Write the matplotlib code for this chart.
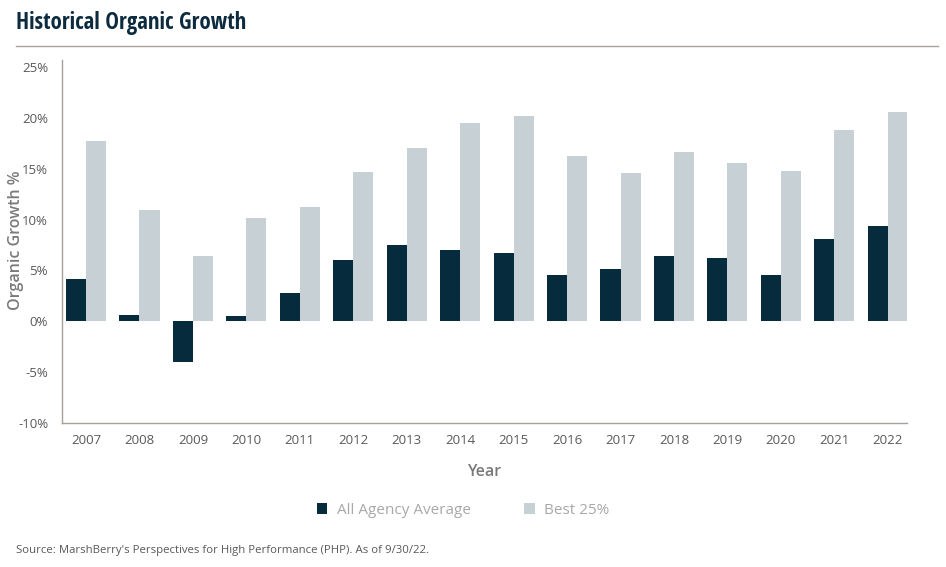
import matplotlib
matplotlib.use("Agg")
import matplotlib.pyplot as plt
import numpy as np
from matplotlib.lines import Line2D

years = ["2007", "2008", "2009", "2010", "2011", "2012", "2013", "2014",
         "2015", "2016", "2017", "2018", "2019", "2020", "2021", "2022"]
all_agency = [4.2, 0.6, -4.0, 0.5, 2.8, 6.0, 7.5, 7.0, 6.7, 4.6, 5.1, 6.4, 6.2, 4.6, 8.1, 9.4]
best_25 = [17.7, 10.9, 6.4, 10.2, 11.2, 14.7, 17.0, 19.5, 20.2, 16.3, 14.6, 16.6, 15.6, 14.8, 18.8, 20.6]
yticks = [-10, -5, 0, 5, 10, 15, 20, 25]

DARK = "#052b3d"
LIGHT = "#c6d0d5"
GRAY = "#595959"
AXIS = "#a6a19c"

plt.rcParams['font.family'] = ['Open Sans', 'DejaVu Sans']

fig = plt.figure(figsize=(9.46, 5.67), dpi=100)
ax = fig.add_axes([62/946, 1-423/567, (907-62)/946, (423-60)/567])

x = np.arange(len(years))
w = 0.375
ax.bar(x - w/2, all_agency, width=w, color=DARK, label="All Agency Average")
ax.bar(x + w/2, best_25, width=w, color=LIGHT, label="Best 25%")

ax.set_xlim(-0.45, 15.36)
ax.set_ylim(-10, 25.69)
ax.set_xticks(x)
ax.set_xticklabels(years)
ax.set_yticks(yticks)
ax.set_yticklabels([f"{v}%" for v in yticks])
ax.tick_params(axis='both', length=0, labelsize=9.5, colors=GRAY)
ax.tick_params(axis='x', pad=8)
ax.tick_params(axis='y', pad=10)
for s in ['top', 'right']:
    ax.spines[s].set_visible(False)
for s in ['left', 'bottom']:
    ax.spines[s].set_color(AXIS)
    ax.spines[s].set_linewidth(1.0)

fig.text(16/946, 1-240/567, "Organic Growth %", fontsize=11.5, color="#7a7a7a",
         fontweight='semibold', rotation=90, ha='center', va='center')
ax.set_xlabel("Year", fontsize=11.5, color="#7a7a7a", fontweight='semibold', labelpad=12)

# Title
fig.text(16/946, 1-23/567, "Historical Organic Growth", fontsize=16.5, fontweight='bold',
         color="#0d2b3e", va='center', ha='left', fontstretch='condensed',
         family=['Open Sans Condensed', 'Roboto Condensed', 'Open Sans', 'DejaVu Sans'])
fig.add_artist(Line2D([16/946, 938/946], [1-46/567, 1-46/567], color=AXIS, lw=1.0))

# Legend
leg = fig.legend(loc='center', bbox_to_anchor=(463/946, 1-510/567), ncol=2, frameon=False,
                 fontsize=11, handlelength=0.7, handleheight=0.7, columnspacing=3.5,
                 handletextpad=0.6)
for t in leg.get_texts():
    t.set_color("#a8a8a8")

fig.text(16/946, 1-550/567, "Source: MarshBerry's Perspectives for High Performance (PHP). As of 9/30/22.",
         fontsize=8.2, color=GRAY, va='center', ha='left')

fig.savefig("out.png", dpi=100)
